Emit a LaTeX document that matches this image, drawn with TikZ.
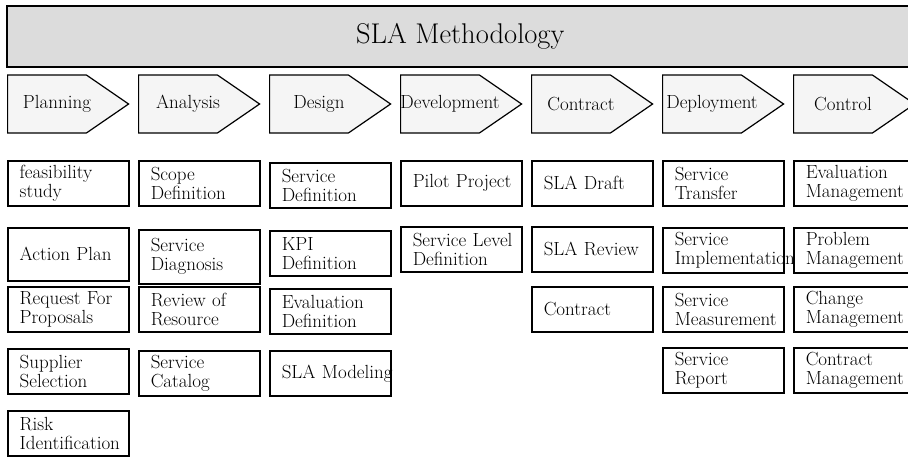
\documentclass[tikz,border=0pt]{standalone}
\usepackage{tikz}
\usetikzlibrary{shapes.symbols, positioning}
\definecolor{slabar}{RGB}{220,220,220}
\definecolor{slaphase}{RGB}{245,245,245}
\hyphenpenalty=10000
\exhyphenpenalty=10000

\begin{document}
\begin{tikzpicture}[x=1pt, y=-1pt,
  every node/.style={font=\fontsize{19}{19}\selectfont},
  bar/.style={draw, line width=2.4pt, fill=slabar, anchor=north west, minimum width=906pt, minimum height=61pt, inner sep=0pt, font=\fontsize{28.5}{30}\selectfont},
  phase/.style={draw, line width=1.2pt, fill=slaphase, signal, signal to=east, signal pointer angle=69, anchor=west, minimum width=121pt, minimum height=58pt, inner sep=0pt},
  ptxt/.style={label={[anchor=center, xshift=50pt, label distance=0pt]west:#1}},
  task/.style={draw, line width=1.5pt, fill=white, anchor=north west, minimum width=121pt, minimum height=45pt, text width=97pt, inner xsep=12pt, inner ysep=0pt, align=left}]
  \useasboundingbox (0,0) rectangle (908,456);
  \clip (0,0) rectangle (908,456);
  \node[bar] (title) at (6,5) {SLA Methodology};
  % phases
  \node[phase, ptxt=Planning] (p1) at (7,104) {};
  \node[phase, ptxt=Analysis] (p2) at (138,104) {};
  \node[phase, ptxt=Design] (p3) at (269,104) {};
  \node[phase, ptxt=Development] (p4) at (400,104) {};
  \node[phase, ptxt=Contract] (p5) at (531,104) {};
  \node[phase, ptxt=Deployment] (p6) at (662,104) {};
  \node[phase, ptxt=Control] (p7) at (793,104) {};
  % planning
  \node[task] (t11) at (7,160) {feasibility\\study};
  \node[task, minimum height=53pt] (t12) at (7,227) {Action~Plan};
  \node[task] (t13) at (7,286) {Request For\\Proposals};
  \node[task] (t14) at (7,348) {Supplier\\Selection};
  \node[task] (t15) at (7,410) {Risk\\Identification};
  % analysis
  \node[task] (t21) at (138,160) {Scope\\Definition};
  \node[task, minimum height=54pt] (t22) at (138,229) {Service\\Diagnosis};
  \node[task] (t23) at (138,286) {Review of\\Resource};
  \node[task] (t24) at (138,350) {Service\\Catalog};
  % design
  \node[task] (t31) at (269,162) {Service\\Definition};
  \node[task] (t32) at (269,230) {KPI\\Definition};
  \node[task] (t33) at (269,288) {Evaluation\\Definition};
  \node[task] (t34) at (269,350) {SLA~Modeling};
  % development
  \node[task] (t41) at (400,160) {Pilot~Project};
  \node[task] (t42) at (400,226) {Service~Level\\Definition};
  % contract
  \node[task] (t51) at (531,160) {SLA~Draft};
  \node[task] (t52) at (531,226) {SLA~Review};
  \node[task] (t53) at (531,286) {Contract};
  % deployment
  \node[task] (t61) at (662,160) {Service\\Transfer};
  \node[task] (t62) at (662,227) {Service\\Implementation};
  \node[task] (t63) at (662,286) {Service\\Measurement};
  \node[task] (t64) at (662,347) {Service\\Report};
  % control
  \node[task] (t71) at (793,160) {Evaluation\\Management};
  \node[task] (t72) at (793,227) {Problem\\Management};
  \node[task] (t73) at (793,286) {Change\\Management};
  \node[task] (t74) at (793,347) {Contract\\Management};
\end{tikzpicture}
\end{document}
